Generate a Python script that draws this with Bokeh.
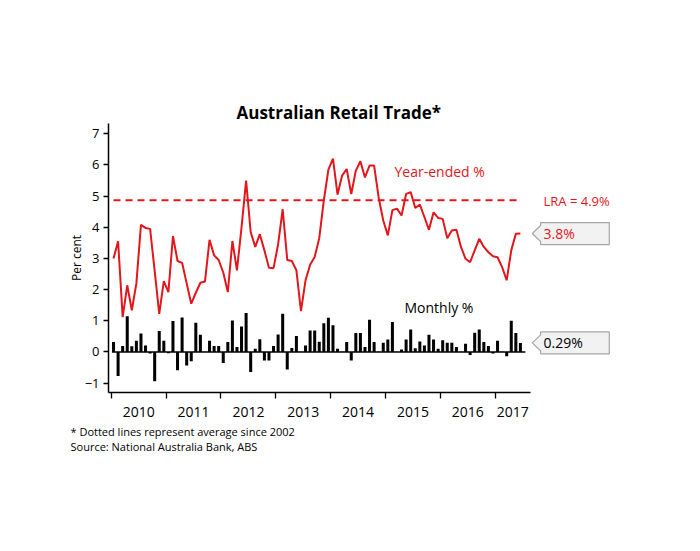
from bokeh.plotting import figure
from bokeh.models import Range1d, FixedTicker, Label, Title
from bokeh.embed import file_html
from bokeh.resources import INLINE

# ---------------- data ----------------
years = ["2010", "2011", "2012", "2013", "2014", "2015", "2016", "2017"]
# monthly observations Jan-2010 .. Jun-2017
year_ended = [3.0, 3.55, 1.12, 2.14, 1.34, 2.2, 4.08, 3.98, 3.95, 2.6, 1.22, 2.27,
              1.92, 3.72, 2.92, 2.86, 2.2, 1.55, 1.9, 2.22, 2.26, 3.6, 3.1, 2.95,
              2.55, 1.92, 3.56, 2.62, 4.0, 5.5, 3.85, 3.37, 3.78, 3.26, 2.7, 2.69,
              3.45, 4.58, 2.95, 2.92, 2.62, 1.31, 2.3, 2.8, 3.05, 3.65, 4.86, 5.85,
              6.2, 5.05, 5.66, 5.87, 5.07, 5.82, 6.12, 5.6, 5.98, 5.98, 4.95, 4.22,
              3.74, 4.55, 4.6, 4.38, 5.07, 5.13, 4.62, 4.73, 4.33, 3.92, 4.48, 4.3,
              4.27, 3.65, 3.9, 3.92, 3.37, 2.99, 2.88, 3.26, 3.63, 3.37, 3.2, 3.07,
              3.04, 2.72, 2.3, 3.26, 3.79, 3.8]
monthly = [0.32, -0.77, 0.19, 1.15, 0.18, 0.36, 0.59, 0.21, -0.05, -0.94, 0.67, 0.36,
           -0.04, 0.99, -0.59, 1.11, -0.43, -0.30, 0.94, 0.55, 0.01, 0.36, 0.19, 0.19,
           -0.35, 0.32, 1.01, 0.16, 0.82, 1.25, -0.64, 0.10, 0.41, -0.27, -0.27, 0.19,
           0.56, 1.23, -0.56, 0.13, 0.51, 0.01, 0.21, 0.69, 0.69, 0.33, 0.92, 1.10,
           0.86, 0.10, 0.01, 0.32, -0.27, 0.61, 0.61, 0.16, 1.03, 0.32, 0.01, 0.30,
           0.40, 0.96, 0.01, 0.08, 0.40, 0.72, 0.12, 0.34, 0.21, 0.55, 0.40, 0.10,
           0.38, 0.30, 0.30, 0.16, 0.01, 0.26, -0.10, 0.62, 0.72, 0.32, 0.19, -0.05,
           0.36, 0.01, -0.14, 1.00, 0.61, 0.29]
lra = 4.87
y_ticks = [-1, 0, 1, 2, 3, 4, 5, 6, 7]

idx = list(range(len(year_ended)))
n = len(idx)

RED = "#E3161C"
FONT = "Open Sans"

# ---------------- layout ----------------
W, H = 684, 535
OFF = 0                      # page offset of the canvas
FL, FT = 108, 123            # frame left / top on page
FR, FB = 615, 392            # frame right / bottom on page
X0, X1 = -1.1, 109.8
Y0, Y1 = -1.30, 7.33
PPX = (FR - FL) / (X1 - X0)
PPY = (FB - FT) / (Y1 - Y0)


def dx(px):
    return X0 + (px - FL) / PPX


def dy(py):
    return Y1 - (py - FT) / PPY


p = figure(width=W, height=H, output_backend="svg", toolbar_location=None,
           x_range=Range1d(X0, X1), y_range=Range1d(Y0, Y1),
           min_border_left=FL - OFF, min_border_right=W + OFF - FR,
           min_border_top=FT - OFF, min_border_bottom=H + OFF - FB)
p.outline_line_color = None
p.grid.visible = False
p.background_fill_color = "white"
p.border_fill_color = "white"

# title
p.title.text = "Australian Retail Trade*"
p.title.text_font = FONT
p.title.text_font_size = "17px"
p.title.text_font_style = "bold"
p.title.text_color = "black"
p.title.align = "left"
p.title.offset = 128
p.title.standoff = 0

# bars + zero line
p.vbar(x=idx, top=monthly, bottom=0, width=0.66, fill_color="black", line_color=None)
p.line([idx[0] - 0.35, idx[-1] + 1.1], [0, 0], line_color="black", line_width=1.5)

# long run average
p.line([idx[0], idx[-1]], [lra, lra], line_color=RED, line_width=2, line_dash="7 5")

# year-ended line
p.line(idx, year_ended, line_color=RED, line_width=2)

# ---------------- axes ----------------
axis_end = idx[-1] + 2.2
bounds = [i - 0.5 for i in range(0, n, 12)]
label_pos = []
for b in bounds:
    e = b + 12 if b + 12 <= axis_end else axis_end
    label_pos.append(round((b + e) / 2, 2))

xa = p.xaxis[0]
xa.bounds = (X0, axis_end)
xa.ticker = FixedTicker(ticks=label_pos, minor_ticks=bounds)
xa.major_label_overrides = {pos: yr for pos, yr in zip(label_pos, years)}
xa.major_tick_out = 0
xa.major_tick_in = 0
xa.minor_tick_out = 6
xa.minor_tick_in = 0
xa.minor_tick_line_color = "black"
xa.minor_tick_line_width = 1.3
xa.axis_line_color = "black"
xa.axis_line_width = 1.5
xa.major_label_text_font = FONT
xa.major_label_text_font_size = "14px"
xa.major_label_text_color = "black"
xa.major_label_standoff = 8

ya = p.yaxis[0]
ya.ticker = FixedTicker(ticks=y_ticks)
ya.axis_label = "Per cent"
ya.axis_label_text_font = FONT
ya.axis_label_text_font_size = "12px"
ya.axis_label_text_font_style = "normal"
ya.axis_label_text_color = "black"
ya.axis_label_standoff = -3
ya.major_tick_out = 5
ya.major_tick_in = 0
ya.minor_tick_line_color = None
ya.major_tick_line_color = "black"
ya.major_tick_line_width = 1.3
ya.axis_line_color = "black"
ya.axis_line_width = 1.5
ya.major_label_text_font = FONT
ya.major_label_text_font_size = "13px"
ya.major_label_text_color = "black"
ya.major_label_standoff = 4

# ---------------- callouts ----------------
def callout(yval, text, color):
    tip = idx[-1] + 2.6
    left = tip + 8.3 / PPX
    right = tip + 77 / PPX
    half = 11 / PPY
    arm = 8 / PPY
    xs = [tip, left, left, right, right, left, left]
    ys = [yval, yval + arm, yval + half, yval + half, yval - half, yval - half, yval - arm]
    p.patch(xs, ys, fill_color="#F2F2F2", line_color="#A6A6A6", line_width=1.2)
    p.add_layout(Label(x=left + 3 / PPX, y=yval, text=text, text_align="left",
                       text_baseline="middle", text_font=FONT, text_font_size="14px",
                       text_color=color))


callout(year_ended[-1], f"{year_ended[-1]:.1f}%", RED)
callout(monthly[-1], f"{monthly[-1]:.2f}%", "black")

# ---------------- texts in the frame ----------------
def label(px, py, text, size, color="black"):
    p.add_layout(Label(x=dx(px), y=dy(py), text=text, text_align="left",
                       text_baseline="middle", text_font=FONT, text_font_size=size,
                       text_color=color))


label(394, 171, "Year-ended %", "14px", RED)
label(543, 200, f"LRA = {lra:.1f}%", "13px", RED)
label(404, 307, "Monthly %", "14px")

# ---------------- footnotes ----------------
for txt, so in [("* Dotted lines represent average since 2002", 5),
                ("Source: National Australia Bank, ABS", -9)]:
    t = Title(text=txt, align="left", offset=70 - FL, text_font=FONT,
              text_font_size="11px", text_font_style="normal", text_color="black",
              standoff=so)
    p.add_layout(t, "below")

open("out.html", "w").write(file_html(p, INLINE))
